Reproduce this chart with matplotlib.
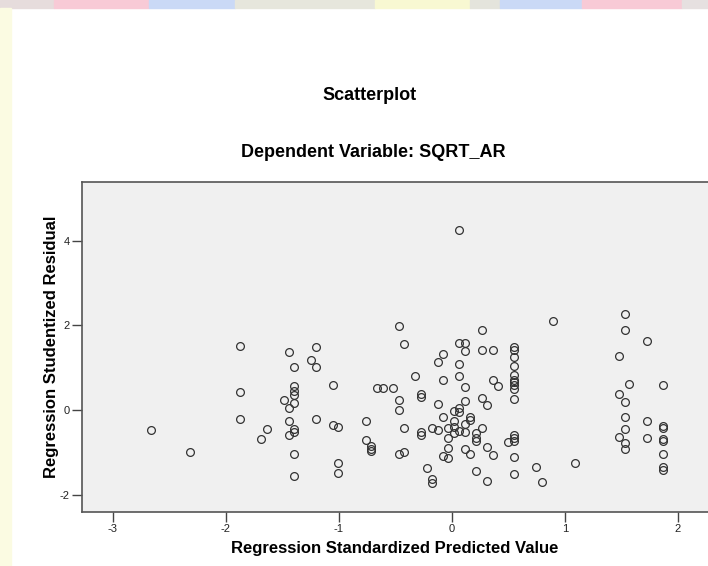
import numpy as np
import matplotlib
matplotlib.use('Agg')
import matplotlib.pyplot as plt
from matplotlib.patches import Rectangle

plt.rcParams['font.family'] = ['Liberation Sans', 'DejaVu Sans']
plt.rcParams['axes.unicode_minus'] = False

# Regression standardized predicted value (x) and studentized residual (y)
pred = [-2.66, -2.32, -1.88, -1.88, -1.88, -1.69, -1.64,
        -1.445, -1.20, -1.25, -1.20, -1.395, -1.395, -1.395, -1.395, -1.395, -1.49, -1.445,
        -1.445, -1.395, -1.395, -1.445, -1.20, -1.395, -1.395,
        -1.056, -1.056, -1.006, -1.006, -1.006,
        -0.666, -0.613, -0.52, -0.761, -0.761, -0.714, -0.714, -0.714,
        -0.469, -0.42, -0.469, -0.469, -0.42, -0.469, -0.42,
        -0.325, -0.277, -0.277, -0.277, -0.277, -0.224, -0.18, -0.177, -0.177,
        -0.127, -0.08, -0.08, -0.127, -0.127, -0.08, -0.08,
        -0.033, -0.033, -0.033, -0.033,
        0.018, 0.018, 0.018, 0.018,
        0.065, 0.065, 0.065, 0.065, 0.065, 0.065, 0.065,
        0.115, 0.115, 0.115, 0.115, 0.115, 0.115, 0.115,
        0.162, 0.162, 0.162,
        0.212, 0.212, 0.212, 0.212,
        0.263, 0.263, 0.263, 0.263,
        0.31, 0.31, 0.31,
        0.36, 0.36, 0.36, 0.404,
        0.50,
        0.551, 0.551, 0.551, 0.551, 0.551, 0.551, 0.551, 0.551, 0.551, 0.551,
        0.551, 0.551, 0.551, 0.551, 0.551,
        0.746, 0.796, 0.893, 1.088,
        1.478, 1.478, 1.478, 1.528, 1.528, 1.528, 1.528, 1.528, 1.528, 1.528, 1.565,
        1.726, 1.726, 1.726,
        1.87, 1.87, 1.87, 1.87, 1.87, 1.87, 1.87, 1.87]

resid = [-0.47, -1.00, 1.51, 0.43, -0.21, -0.69, -0.44,
         1.38, 1.50, 1.18, 1.01, 1.01, 0.57, 0.45, 0.35, 0.16, 0.24, 0.05,
         -0.26, -0.44, -0.52, -0.59, -0.20, -1.03, -1.56,
         0.59, -0.36, -0.39, -1.24, -1.49,
         0.52, 0.52, 0.51, -0.25, -0.70, -0.85, -0.91, -0.96,
         1.98, 1.55, 0.24, -0.01, -0.42, -1.03, -0.99,
         0.80, 0.39, 0.31, -0.52, -0.60, -1.38, -0.43, -1.64, -1.72,
         1.13, 1.32, 0.72, 0.14, -0.46, -0.17, -1.09,
         -0.43, -0.67, -0.89, -1.13,
         -0.02, -0.25, -0.39, -0.55,
         4.25, 1.59, 1.10, 0.80, 0.05, -0.05, -0.50,
         1.59, 1.39, 0.55, 0.22, -0.32, -0.52, -0.91,
         -0.17, -0.24, -1.04,
         -0.55, -0.66, -0.72, -1.44,
         1.89, 1.41, 0.28, -0.42,
         0.11, -0.88, -1.68,
         1.41, 0.71, -1.07, 0.57,
         -0.76,
         1.50, 1.43, 1.26, 1.04, 0.83, 0.72, 0.66, 0.60, 0.50, 0.27,
         -0.60, -0.67, -0.73, -1.10, -1.52,
         -1.34, -1.69, 2.11, -1.24,
         1.28, 0.38, -0.63, 2.26, 1.89, 0.20, -0.16, -0.44, -0.77, -0.93, 0.61,
         1.64, -0.25, -0.65,
         0.60, -0.38, -0.43, -0.69, -0.74, -1.05, -1.34, -1.42]

xticks = [-3, -2, -1, 0, 1, 2]
yticks = [-2, 0, 2, 4]

fig = plt.figure(figsize=(7.08, 5.66), dpi=100)

# faint coloured page border seen in the screenshot
band = [(0, 54, '#e6dcdc'), (54, 149, '#f8cad6'), (149, 235, '#cad9f6'),
        (235, 375, '#e6e6dc'), (375, 470, '#f8f8d2'), (470, 500, '#e4e4dc'),
        (500, 582, '#cad9f6'), (582, 682, '#f8cad6'), (682, 708, '#e6e0e0')]
for x0, x1, c in band:
    fig.patches.append(Rectangle((x0 / 708, 1 - 7.5 / 566), (x1 - x0) / 708, 7.5 / 566,
                                 transform=fig.transFigure, color=c, zorder=0))
fig.patches.append(Rectangle((0, 0), 11 / 708, 1 - 7.5 / 566, transform=fig.transFigure,
                             color='#fbfbe2', zorder=0))

# axes box (right edge runs off the picture)
ax = fig.add_axes([82 / 708, 54 / 566, 636 / 708, 330 / 566])
ax.set_facecolor('#f0f0f0')
ax.plot(pred, resid, 'o', ms=5.6, mfc='none', mec='#333333', mew=0.9)

ax.set_xlim(-3.274, 2.355)
ax.set_ylim(-2.41, 5.39)
ax.set_xticks(xticks)
ax.set_yticks(yticks)
ax.tick_params(direction='out', length=7, width=1, colors='#444444', labelsize=8,
               labelcolor='#222222', pad=2)
for s in ax.spines.values():
    s.set_color('#555555')
    s.set_linewidth(1.2)

ax.set_xlabel('Regression Standardized Predicted Value', fontsize=12, fontweight='bold',
              labelpad=5)
ax.xaxis.label.set_x((395 - 82) / 636)
ax.set_ylabel('Regression Studentized Residual', fontsize=12, fontweight='bold',
              labelpad=0)

fig.text(370 / 708, 1 - 96 / 566, 'Scatterplot', ha='center', va='center',
         fontsize=13, fontweight='bold')
fig.text(373 / 708, 1 - 153 / 566, 'Dependent Variable: SQRT_AR', ha='center', va='center',
         fontsize=13, fontweight='bold')

fig.savefig('out.png', dpi=100)
